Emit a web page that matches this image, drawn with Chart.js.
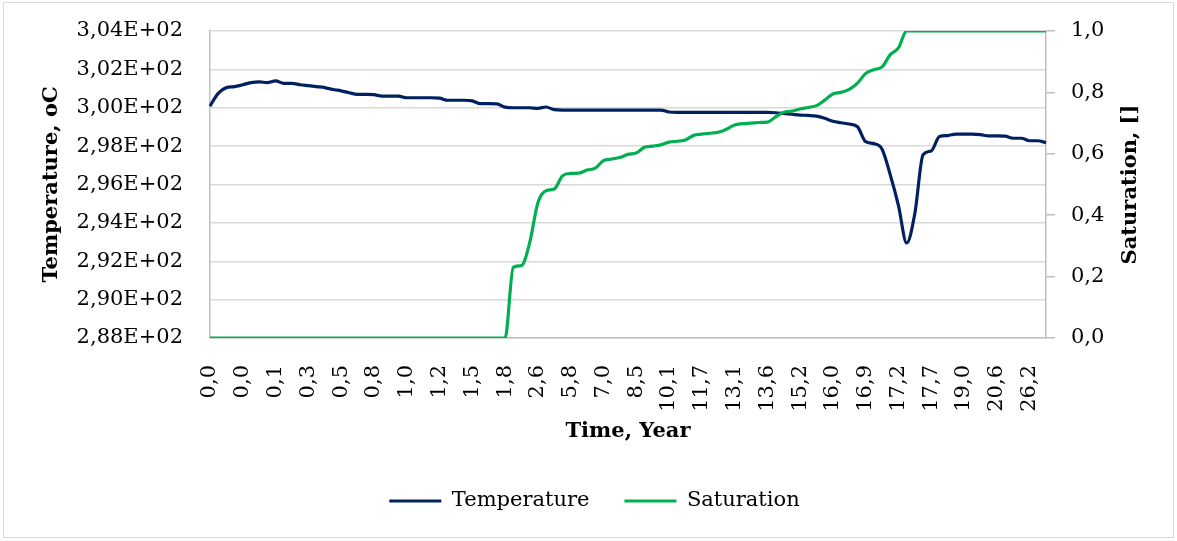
<!DOCTYPE html>
<html><head><meta charset="utf-8">
<script src="https://cdn.jsdelivr.net/npm/chart.js@4.4.1/dist/chart.umd.min.js"></script>
<style>html,body{margin:0;padding:0;background:#fff;}#wrap{position:relative;width:1177px;height:541px;}</style>
</head><body><div id="wrap"><canvas id="c" width="1177" height="541"></canvas></div>
<script>
// x-axis tick labels (Time, Year) shown on every 4th category
const xTickLabels = ['0,0','0,0','0,1','0,3','0,5','0,8','1,0','1,2','1,5','1,8','2,6','5,8','7,0','8,5',
  '10,1','11,7','13,1','13,6','15,2','16,0','16,9','17,2','17,7','19,0','20,6','26,2'];
const labelEvery = 4;

// Temperature, oC
const temperature = [
  300.09, 300.75, 301.05, 301.10, 301.20, 301.31, 301.35, 301.31, 301.40, 301.27,
  301.27, 301.20, 301.15, 301.10, 301.05, 300.95, 300.88, 300.78, 300.70, 300.70,
  300.68, 300.61, 300.61, 300.61, 300.52, 300.52, 300.52, 300.52, 300.50, 300.39,
  300.39, 300.39, 300.36, 300.21, 300.21, 300.20, 300.03, 300.00, 300.00, 300.00,
  299.97, 300.04, 299.90, 299.88, 299.88, 299.88, 299.88, 299.88, 299.88, 299.88,
  299.88, 299.88, 299.88, 299.88, 299.88, 299.88, 299.78, 299.76, 299.76, 299.76,
  299.76, 299.76, 299.76, 299.76, 299.76, 299.76, 299.76, 299.76, 299.76, 299.74,
  299.70, 299.66, 299.62, 299.60, 299.56, 299.45, 299.30, 299.22, 299.15, 299.01,
  298.23, 298.13, 297.84, 296.50, 294.90, 292.95, 294.50, 297.55, 297.75, 298.50,
  298.55, 298.63, 298.63, 298.63, 298.60, 298.53, 298.53, 298.52, 298.41, 298.41,
  298.28, 298.28, 298.18
];

// Saturation, []
const saturation = [
  0, 0, 0, 0, 0, 0, 0, 0, 0, 0,
  0, 0, 0, 0, 0, 0, 0, 0, 0, 0,
  0, 0, 0, 0, 0, 0, 0, 0, 0, 0,
  0, 0, 0, 0, 0, 0, 0, 0.230, 0.236, 0.310,
  0.440, 0.480, 0.485, 0.528, 0.536, 0.537, 0.547, 0.553, 0.578, 0.583,
  0.588, 0.598, 0.603, 0.621, 0.625, 0.629, 0.638, 0.641, 0.645, 0.660,
  0.664, 0.667, 0.670, 0.680, 0.694, 0.698, 0.700, 0.702, 0.703, 0.720,
  0.735, 0.739, 0.746, 0.751, 0.757, 0.775, 0.795, 0.800, 0.810, 0.830,
  0.862, 0.874, 0.883, 0.923, 0.945, 1.000, 1.000, 1.000, 1.000, 1.000,
  1.000, 1.000, 1.000, 1.000, 1.000, 1.000, 1.000, 1.000, 1.000, 1.000,
  1.000, 1.000, 1.000
];

const categories = temperature.map((_, i) => (i % labelEvery === 0 ? (xTickLabels[i / labelEvery] || '') : ''));

const FONT = "'DejaVu Serif', 'Liberation Serif', serif";
Chart.defaults.font.family = FONT;
Chart.defaults.font.size = 21;
Chart.defaults.color = '#000';

function fmtE(v) {
  const e = Math.floor(Math.log10(Math.abs(v)) + 1e-9);
  const m = v / Math.pow(10, e);
  return m.toFixed(2).replace('.', ',') + 'E+' + String(e).padStart(2, '0');
}

const frame = {
  id: 'frame',
  beforeDraw(chart) {
    const ctx = chart.ctx;
    ctx.save();
    ctx.fillStyle = '#fff';
    ctx.fillRect(0, 0, chart.width, chart.height);
    ctx.strokeStyle = '#d9d9d9';
    ctx.lineWidth = 1;
    ctx.strokeRect(3.5, 2.5, 1170, 535);
    ctx.restore();
  },
  afterDraw(chart) {
    const ctx = chart.ctx;
    const a = chart.chartArea;
    ctx.save();
    ctx.translate(1131, (a.top + a.bottom) / 2);
    ctx.rotate(-Math.PI / 2);
    ctx.font = "bold 21px " + FONT;
    ctx.fillStyle = '#000';
    ctx.textAlign = 'center';
    ctx.textBaseline = 'middle';
    ctx.fillText('Saturation, []', 0, 0);
    ctx.restore();
  }
};

new Chart(document.getElementById('c'), {
  type: 'line',
  data: {
    labels: categories,
    datasets: [
      { label: 'Temperature', data: temperature, yAxisID: 'y', borderColor: '#002060', backgroundColor: '#002060',
        borderWidth: 3.2, pointRadius: 0, cubicInterpolationMode: 'monotone', order: 1 },
      { label: 'Saturation', data: saturation, yAxisID: 'y1', borderColor: '#00B050', backgroundColor: '#00B050',
        borderWidth: 3.2, pointRadius: 0, cubicInterpolationMode: 'monotone', order: 0 }
    ]
  },
  options: {
    responsive: false,
    devicePixelRatio: 1,
    animation: false,
    layout: { padding: { left: 12, right: 0, top: 31, bottom: 19.5 } },
    plugins: {
      tooltip: { enabled: false },
      legend: {
        position: 'bottom',
        labels: {
          boxWidth: 52, boxHeight: 3, padding: 35, font: { size: 21 }, color: '#000',
          sort: (a, b) => a.datasetIndex - b.datasetIndex,
          generateLabels(chart) {
            const items = Chart.defaults.plugins.legend.labels.generateLabels(chart);
            items.forEach(it => { it.lineWidth = 0; it.fillStyle = it.strokeStyle; });
            items.sort((a, b) => a.datasetIndex - b.datasetIndex);
            return items;
          }
        }
      }
    },
    scales: {
      x: {
        type: 'category',
        offset: false,
        grid: { display: false },
        border: { display: true, color: '#bfbfbf', width: 1.5 },
        ticks: {
          autoSkip: false, maxRotation: 90, minRotation: 90, padding: 19,
          callback(v, i) { return categories[i] ? categories[i] : null; }
        },
        title: { display: true, text: 'Time, Year', font: { weight: 'bold', size: 21 }, padding: { top: 0, bottom: 11 } },
        afterFit(s) { s.height = 117.5; }
      },
      y: {
        position: 'left',
        min: 288, max: 304,
        ticks: { stepSize: 2, padding: 0, callback: v => fmtE(v) },
        grid: { color: '#d9d9d9', lineWidth: 1.5, drawTicks: true, tickLength: 27, tickColor: 'rgba(0,0,0,0)' },
        border: { display: true, color: '#bfbfbf', width: 1.5 },
        title: { display: true, text: 'Temperature, oC', font: { weight: 'bold', size: 21 }, padding: { top: 27.4, bottom: 0 } },
        afterFit(s) { s.width = 198; }
      },
      y1: {
        position: 'right',
        min: 0, max: 1,
        ticks: { stepSize: 0.2, padding: 16, callback: v => v.toFixed(1).replace('.', ',') },
        grid: { drawOnChartArea: false, drawTicks: true, tickLength: 9, color: '#bfbfbf', lineWidth: 1.5 },
        border: { display: true, color: '#bfbfbf', width: 1.5 },
        afterFit(s) { s.width = 131; }
      }
    }
  },
  plugins: [frame]
});
</script>
</body></html>
